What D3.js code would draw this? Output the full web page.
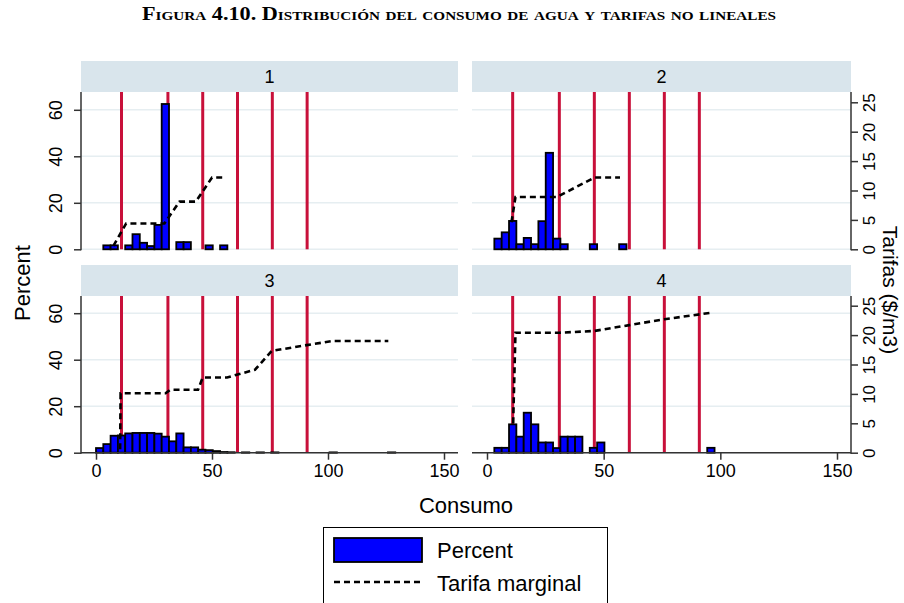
<!DOCTYPE html>
<html><head><meta charset="utf-8">
<script src="https://cdn.jsdelivr.net/npm/d3@7"></script>
<style>body{margin:0;background:#fff} svg{display:block}</style>
</head><body><svg id="c" width="904" height="603"></svg>
<script>
// ---------------- DATA ----------------
const titleText = "Figura 4.10. Distribución del consumo de agua y tarifas no lineales";
const panelNames = ["1", "2", "3", "4"];
const binStart = 0;
const binWidth = 3.146;
// histogram percents per bin (bin k covers [k*w, (k+1)*w))
const pct1 = [0, 1.7, 1.7, 0, 1.7, 6.5, 2.8, 1.4, 10.5, 62.5, 0, 3.1, 3.1, 0, 0, 1.7, 0, 1.7];
const pct2 = [0, 4.6, 7.3, 12.2, 2.2, 4.9, 2.2, 12.1, 41.5, 4.6, 2.2, 0, 0, 0, 2.2, 0, 0, 0, 2.2];
const pct3 = [2.0, 3.7, 7.3, 7.4, 8.3, 8.5, 8.5, 8.5, 8.2, 6.9, 4.9, 8.3, 2.3, 2.3, 1.3, 1.1, 0.7, 0.3, 0.2,
              0, 0.15, 0, 0.15, 0, 0.15, 0, 0, 0, 0, 0, 0, 0, 0.15, 0, 0, 0, 0, 0, 0, 0, 0.15];
const pct4 = [0, 2.1, 2.1, 12.2, 6.9, 17.2, 12.2, 4.4, 4.4, 2.0, 6.9, 6.9, 6.9, 0, 2.1, 4.4,
              0, 0, 0, 0, 0, 0, 0, 0, 0, 0, 0, 0, 0, 0, 2.1];
// tarifa marginal: [consumo, tarifa]
const tarifa1 = [[7.5, 0.6], [13, 4.4], [29.5, 4.4], [36, 8.1], [43, 8.1], [50, 12.2], [55.5, 12.2]];
const tarifa2 = [[10.5, 4.6], [12.2, 8.9], [30, 8.9], [46, 12.2], [57, 12.2]];
const tarifa3 = [[10.4, 0.6], [10.6, 10.1], [30, 10.1], [32, 10.7], [44, 10.7], [46, 12.8], [56.5, 12.8],
                 [68.5, 14.1], [75.7, 17.3], [90.8, 18.3], [102, 19.0], [126, 19.0]];
const tarifa4 = [[11.2, 5.0], [12.2, 20.4], [31, 20.4], [46, 20.7], [61, 21.7], [76, 22.7], [96, 23.8]];
const thresholds = [11, 31, 46, 61, 76, 91];
const xTicks = [0, 50, 100, 150];
const yTicks = [0, 20, 40, 60];
const rTicks = [0, 5, 10, 15, 20, 25];
const xTitle = "Consumo";
const yTitle = "Percent";
const rTitle = "Tarifas ($/m3)";
const legendLabels = ["Percent", "Tarifa marginal"];

const pctSeries = [pct1, pct2, pct3, pct4];
const tarSeries = [tarifa1, tarifa2, tarifa3, tarifa4];

// ---------------- LAYOUT ----------------
const svg = d3.select("#c");
svg.append("rect").attr("width", 904).attr("height", 603).attr("fill", "#fff");
const SANS = "'Liberation Sans', Arial, sans-serif";
const AX = "#333";

svg.append("text")
  .attr("x", 459).attr("y", 20).attr("text-anchor", "middle")
  .style("font-family", "'Liberation Serif', 'DejaVu Serif', serif")
  .style("font-weight", "bold").style("font-size", "19px").style("font-variant", "small-caps")
  .attr("textLength", 634).attr("lengthAdjust", "spacingAndGlyphs")
  .text(titleText);

const cols = [{x0: 81, x1: 458}, {x0: 472, x1: 851}];
const rows = [{h0: 61, h1: 92, zero: 249.3}, {h0: 265, h1: 296, zero: 452.7}];
const pxPerPct = 2.325, pxPerTar = 5.88;

panelNames.forEach((name, i) => {
  const c = cols[i % 2], r = rows[Math.floor(i / 2)];
  const xs = d3.scaleLinear().domain([0, 150]).range([c.x0 + 15, c.x1 - 14]);
  const yL = d3.scaleLinear().domain([0, 60]).range([r.zero, r.zero - 60 * pxPerPct]);
  const yR = d3.scaleLinear().domain([0, 25]).range([r.zero, r.zero - 25 * pxPerTar]);
  const g = svg.append("g");

  // header strip
  g.append("rect").attr("x", c.x0).attr("y", r.h0).attr("width", c.x1 - c.x0).attr("height", r.h1 - r.h0)
    .attr("fill", "#d9e5ec");
  g.append("text").attr("x", (c.x0 + c.x1) / 2).attr("y", (r.h0 + r.h1) / 2 + 6.5)
    .attr("text-anchor", "middle").style("font-family", SANS).style("font-size", "18px").text(name);

  // gridlines
  g.selectAll(".grid").data(yTicks).join("line")
    .attr("x1", c.x0).attr("x2", c.x1).attr("y1", d => yL(d)).attr("y2", d => yL(d))
    .attr("stroke", "#e6eef1").attr("stroke-width", 1.6);

  // threshold lines
  g.selectAll(".thr").data(thresholds).join("line")
    .attr("x1", d => xs(d)).attr("x2", d => xs(d)).attr("y1", r.h1).attr("y2", r.zero)
    .attr("stroke", "#c8103a").attr("stroke-width", 3);

  // bars
  const bins = pctSeries[i].map((v, k) => ({v, a: binStart + k * binWidth, b: binStart + (k + 1) * binWidth})).filter(d => d.v > 0);
  g.selectAll(".bar").data(bins).join("rect")
    .attr("x", d => xs(d.a)).attr("width", d => xs(d.b) - xs(d.a))
    .attr("y", d => yL(d.v)).attr("height", d => yL(0) - yL(d.v))
    .attr("fill", "#0000ff").attr("stroke", "#000").attr("stroke-width", 1.8);

  // tarifa line
  g.append("path").datum(tarSeries[i])
    .attr("d", d3.line().x(d => xs(d[0])).y(d => yR(d[1])))
    .attr("fill", "none").attr("stroke", "#000").attr("stroke-width", 2.6).attr("stroke-dasharray", "6,4");

  // left axis
  if (i % 2 === 0) {
    g.append("line").attr("x1", c.x0).attr("x2", c.x0).attr("y1", r.h1).attr("y2", r.zero + 1)
      .attr("stroke", AX).attr("stroke-width", 1.5);
    const ax = g.append("g").attr("transform", `translate(${c.x0},0)`)
      .call(d3.axisLeft(yL).tickValues(yTicks).tickSize(7).tickSizeOuter(0));
    ax.select(".domain").remove();
    ax.selectAll(".tick line").attr("stroke", AX).attr("stroke-width", 1.5);
    ax.selectAll(".tick text").attr("x", null).attr("dy", null).attr("text-anchor", "middle")
      .attr("transform", "translate(-19,0) rotate(-90)")
      .style("font-family", SANS).style("font-size", "18px").attr("fill", "#000");
  } else {
    g.append("line").attr("x1", c.x1).attr("x2", c.x1).attr("y1", r.h1).attr("y2", r.zero + 1)
      .attr("stroke", AX).attr("stroke-width", 1.5);
    const ax = g.append("g").attr("transform", `translate(${c.x1},0)`)
      .call(d3.axisRight(yR).tickValues(rTicks).tickSize(7).tickSizeOuter(0));
    ax.select(".domain").remove();
    ax.selectAll(".tick line").attr("stroke", AX).attr("stroke-width", 1.5);
    ax.selectAll(".tick text").attr("x", null).attr("dy", null).attr("text-anchor", "middle")
      .attr("transform", "translate(24,0) rotate(-90)")
      .style("font-family", SANS).style("font-size", "17px").attr("fill", "#000");
  }

  // bottom axis (bottom row only)
  if (i >= 2) {
    g.append("line").attr("x1", c.x0).attr("x2", c.x1).attr("y1", r.zero).attr("y2", r.zero)
      .attr("stroke", AX).attr("stroke-width", 1.5);
    const ax = g.append("g").attr("transform", `translate(0,${r.zero})`)
      .call(d3.axisBottom(xs).tickValues(xTicks).tickSize(7).tickPadding(5).tickSizeOuter(0));
    ax.select(".domain").remove();
    ax.selectAll(".tick line").attr("stroke", AX).attr("stroke-width", 1.5);
    ax.selectAll(".tick text").style("font-family", SANS).style("font-size", "18px").attr("fill", "#000");
  }
});

// axis titles
svg.append("text").attr("transform", "translate(30,283) rotate(-90)").attr("text-anchor", "middle")
  .style("font-family", SANS).style("font-size", "22px").text(yTitle);
svg.append("text").attr("transform", "translate(883,290) rotate(90)").attr("text-anchor", "middle")
  .style("font-family", SANS).style("font-size", "21px").text(rTitle);
svg.append("text").attr("x", 466).attr("y", 513).attr("text-anchor", "middle")
  .style("font-family", SANS).style("font-size", "22px").text(xTitle);

// legend
const lg = svg.append("g");
lg.append("rect").attr("x", 323.5).attr("y", 527.5).attr("width", 284).attr("height", 90)
  .attr("fill", "#fff").attr("stroke", "#000").attr("stroke-width", 1);
lg.append("rect").attr("x", 334).attr("y", 538).attr("width", 88).attr("height", 24)
  .attr("fill", "#0000ff").attr("stroke", "#000").attr("stroke-width", 1.8);
lg.append("line").attr("x1", 334).attr("x2", 422).attr("y1", 582).attr("y2", 582)
  .attr("stroke", "#000").attr("stroke-width", 2.6).attr("stroke-dasharray", "6,4");
lg.selectAll(".lt").data(legendLabels).join("text")
  .attr("x", 437).attr("y", (d, k) => 558 + k * 33)
  .style("font-family", SANS).style("font-size", "22px").text(d => d);
</script></body></html>
